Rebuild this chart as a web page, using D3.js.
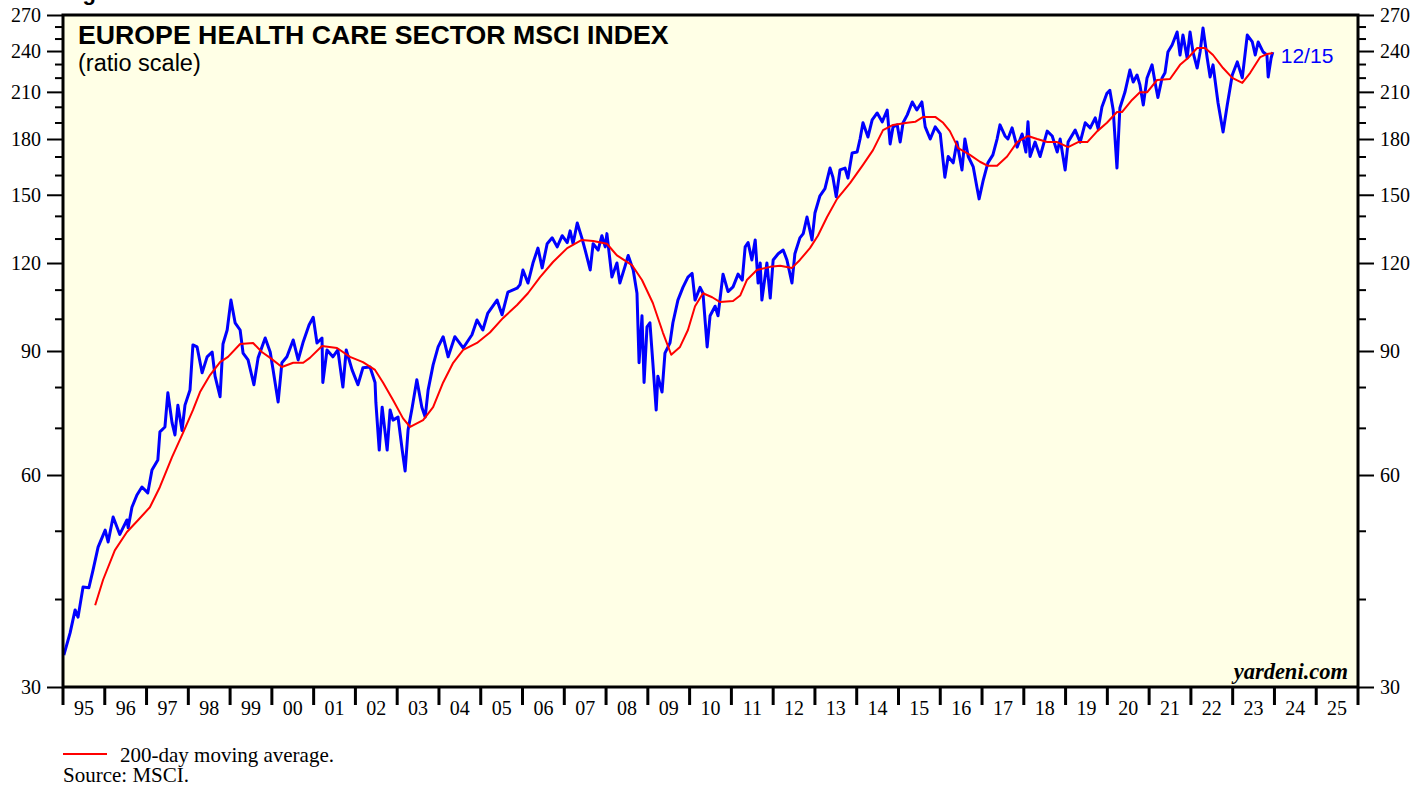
<!DOCTYPE html>
<html>
<head>
<meta charset="utf-8">
<script src="https://d3js.org/d3.v7.min.js"></script>
<style>
  body { margin: 0; background: #ffffff; }
  svg { display: block; }
</style>
</head>
<body>
<script>

var indexYears = [1995.02,1995.17,1995.29,1995.36,1995.48,1995.62,1995.72,1995.84,1996.01,1996.08,1996.20,1996.36,1996.53,1996.56,1996.65,1996.77,1996.89,1997.03,1997.13,1997.27,1997.32,1997.44,1997.51,1997.61,1997.68,1997.75,1997.85,1997.92,1998.04,1998.11,1998.21,1998.33,1998.45,1998.57,1998.64,1998.76,1998.83,1998.93,1999.02,1999.12,1999.24,1999.31,1999.43,1999.57,1999.67,1999.84,1999.96,2000.03,2000.15,2000.24,2000.36,2000.51,2000.63,2000.75,2000.89,2000.99,2001.08,2001.20,2001.22,2001.32,2001.46,2001.58,2001.70,2001.78,2001.92,2002.06,2002.18,2002.35,2002.47,2002.49,2002.57,2002.64,2002.76,2002.83,2002.90,2003.02,2003.12,2003.19,2003.26,2003.36,2003.47,2003.59,2003.67,2003.74,2003.86,2003.98,2004.10,2004.22,2004.38,2004.58,2004.79,2004.91,2005.05,2005.17,2005.39,2005.51,2005.65,2005.87,2005.94,2006.01,2006.13,2006.25,2006.37,2006.47,2006.59,2006.71,2006.83,2006.95,2007.07,2007.14,2007.21,2007.31,2007.42,2007.50,2007.62,2007.69,2007.81,2007.90,2007.98,2008.02,2008.14,2008.26,2008.33,2008.45,2008.53,2008.65,2008.74,2008.79,2008.86,2008.91,2008.98,2009.05,2009.12,2009.20,2009.24,2009.34,2009.41,2009.53,2009.60,2009.72,2009.84,2009.96,2010.06,2010.13,2010.25,2010.32,2010.42,2010.49,2010.61,2010.68,2010.80,2010.92,2011.04,2011.16,2011.26,2011.33,2011.40,2011.49,2011.57,2011.64,2011.69,2011.73,2011.85,2011.93,2012.00,2012.12,2012.24,2012.33,2012.45,2012.52,2012.64,2012.72,2012.81,2012.93,2013.00,2013.12,2013.24,2013.36,2013.43,2013.51,2013.60,2013.72,2013.79,2013.89,2014.01,2014.08,2014.15,2014.27,2014.37,2014.49,2014.61,2014.73,2014.80,2014.87,2014.97,2015.04,2015.11,2015.21,2015.33,2015.44,2015.56,2015.64,2015.76,2015.88,2016.00,2016.11,2016.19,2016.31,2016.40,2016.52,2016.59,2016.67,2016.79,2016.88,2016.93,2017.03,2017.14,2017.26,2017.36,2017.43,2017.55,2017.62,2017.72,2017.84,2017.96,2018.05,2018.10,2018.15,2018.27,2018.39,2018.56,2018.68,2018.80,2018.87,2018.99,2019.06,2019.23,2019.35,2019.47,2019.59,2019.71,2019.78,2019.87,2019.99,2020.06,2020.14,2020.23,2020.30,2020.42,2020.54,2020.62,2020.71,2020.78,2020.86,2020.95,2021.07,2021.14,2021.21,2021.31,2021.38,2021.45,2021.55,2021.67,2021.74,2021.81,2021.91,2021.98,2022.05,2022.15,2022.22,2022.29,2022.39,2022.46,2022.53,2022.65,2022.77,2022.87,2022.99,2023.11,2023.23,2023.35,2023.47,2023.54,2023.61,2023.73,2023.82,2023.85,2023.92,2023.96];
var indexValues = [33.3,35.8,38.6,37.7,41.6,41.5,44.0,47.4,50.1,48.2,52.3,49.4,51.8,50.5,54.0,56.2,57.7,56.6,61.0,63.0,69.1,70.2,78.5,71.2,68.4,75.4,69.4,75.4,79.2,91.8,91.2,83.8,88.3,89.7,82.9,77.5,92.1,96.4,106.3,98.7,96.4,89.4,87.4,80.6,88.0,93.9,89.7,84.6,76.2,86.6,88.3,93.3,87.4,92.7,98.0,100.5,92.4,93.9,81.2,90.3,88.3,90.3,80.0,90.3,84.6,80.6,85.2,85.4,81.2,76.0,65.1,74.9,65.1,74.2,71.8,72.5,65.1,60.8,69.5,74.9,81.9,74.9,72.5,79.2,86.0,91.2,94.3,88.3,94.3,90.9,94.9,99.6,96.4,101.9,106.3,101.3,109.1,110.5,111.8,117.3,112.4,120.0,126.0,118.1,127.8,130.3,126.5,131.2,128.3,133.3,127.8,136.8,130.3,125.2,117.3,127.8,125.2,131.2,126.5,132.1,114.6,120.0,112.4,118.5,123.0,117.3,108.7,86.6,101.0,81.2,97.4,98.7,86.6,74.2,82.9,78.7,89.4,92.4,98.7,106.3,110.8,114.6,116.0,106.3,110.8,108.7,91.2,101.0,104.2,101.0,115.7,109.3,111.0,115.7,113.5,126.5,128.3,121.2,129.4,112.4,120.0,106.3,120.0,107.0,121.2,123.7,125.2,121.2,112.4,123.7,130.3,132.1,139.5,129.4,141.3,149.5,153.0,163.7,158.9,149.0,162.7,163.7,158.4,172.0,172.5,180.0,189.8,181.2,191.6,196.0,190.4,197.9,177.1,187.3,188.5,178.2,189.8,194.8,203.2,197.9,203.2,187.3,180.0,187.3,183.0,158.9,170.0,166.5,178.2,162.7,180.0,170.0,164.3,153.5,148.0,157.4,166.5,170.9,180.0,188.5,181.8,180.0,186.7,175.3,183.0,172.5,190.4,170.0,178.2,170.0,184.7,181.8,172.5,180.0,162.7,178.2,185.3,178.2,189.8,186.7,192.9,186.1,199.9,209.0,211.0,197.9,163.7,199.2,209.7,225.5,216.9,221.9,214.8,201.2,219.8,229.4,216.9,206.2,219.8,223.5,239.2,244.8,255.4,236.9,252.9,234.6,255.4,239.2,227.0,239.2,258.8,234.6,220.5,229.4,202.5,184.2,201.2,221.9,231.6,219.8,252.9,247.2,236.9,247.2,239.2,236.9,220.5,234.6,239.2];

// 200-day moving average (red)
var maYears = [1995.77,1995.96,1996.24,1996.53,1996.80,1997.08,1997.32,1997.61,1997.87,1998.11,1998.28,1998.52,1998.76,1998.95,1999.24,1999.55,1999.76,1999.96,2000.24,2000.51,2000.75,2000.91,2001.20,2001.56,2001.87,2002.18,2002.47,2002.66,2002.90,2003.14,2003.31,2003.62,2003.86,2004.10,2004.34,2004.58,2004.91,2005.22,2005.53,2005.87,2006.13,2006.42,2006.73,2007.07,2007.42,2007.69,2008.02,2008.26,2008.62,2008.86,2009.12,2009.36,2009.56,2009.77,2009.96,2010.13,2010.32,2010.54,2010.73,2011.04,2011.21,2011.37,2011.61,2011.93,2012.17,2012.45,2012.64,2012.88,2013.07,2013.29,2013.53,2013.84,2014.15,2014.39,2014.63,2014.87,2015.21,2015.40,2015.59,2015.88,2016.07,2016.23,2016.43,2016.71,2016.95,2017.14,2017.36,2017.60,2017.84,2018.10,2018.32,2018.56,2018.80,2019.06,2019.30,2019.52,2019.76,2019.99,2020.23,2020.35,2020.59,2020.78,2020.95,2021.19,2021.50,2021.74,2021.93,2022.15,2022.34,2022.53,2022.77,2022.99,2023.23,2023.42,2023.66,2023.82,2023.96];
var maValues = [39.2,42.6,46.9,49.8,51.8,54.0,57.7,63.6,68.8,74.2,78.7,83.2,86.8,88.3,92.1,92.4,89.7,88.0,85.4,86.6,86.6,88.0,91.5,90.9,88.3,86.8,84.6,81.2,76.7,72.2,70.2,71.8,74.9,81.2,86.6,90.3,92.4,95.6,100.2,104.6,108.7,114.6,120.4,126.0,129.4,129.0,127.8,123.0,119.2,113.5,105.3,95.6,88.9,91.2,96.4,104.2,108.7,107.3,105.6,106.0,107.9,113.5,117.3,118.5,118.9,118.1,121.2,126.0,131.2,139.5,148.0,155.8,165.4,173.6,185.3,188.5,189.8,190.4,193.5,193.5,189.8,184.7,174.7,170.9,167.1,164.9,164.9,170.0,178.2,181.8,180.0,178.2,178.2,175.3,178.2,178.2,184.7,189.8,196.6,196.6,204.5,209.7,209.7,218.3,219.0,229.4,234.6,242.4,242.4,236.9,227.0,219.8,216.2,223.5,235.3,237.6,238.4];

// Axis ticks
var yMajor = [30, 60, 90, 120, 150, 180, 210, 240, 270];
var yMinor = [40, 50, 70, 80, 100, 110, 130, 140, 160, 170, 190, 200, 220, 230, 250, 260];
var yearLabels = ["95","96","97","98","99","00","01","02","03","04","05","06","07","08","09","10","11","12","13","14","15","16","17","18","19","20","21","22","23","24","25"];
var lastDate = "12/15";

var w = 1426;
var h = 786;
var margin = {top: 15, right: 68, bottom: 99, left: 63};
var plotW = w - margin.left - margin.right;
var plotH = h - margin.top - margin.bottom;

var sans = "'Liberation Sans', Arial, sans-serif";
var serif = "'Liberation Serif', 'Times New Roman', serif";

var svg = d3.select("body").append("svg")
            .attr("width", w)
            .attr("height", h);

// scales: linear in years, log for the ratio scale
var xScale = d3.scaleLinear()
               .domain([1995, 1995 + yearLabels.length])
               .range([margin.left, margin.left + plotW]);

var yScale = d3.scaleLog()
               .domain([30, 270])
               .range([margin.top + plotH, margin.top]);

// figure heading, cut off at the top edge like in the source
svg.append("text")
   .attr("x", 63)
   .attr("y", 0)
   .attr("font-family", sans)
   .attr("font-weight", "bold")
   .attr("font-size", 22)
   .text("Figure");

// plot background
svg.append("rect")
   .attr("x", margin.left)
   .attr("y", margin.top)
   .attr("width", plotW)
   .attr("height", plotH)
   .attr("fill", "#ffffe6");

svg.append("clipPath")
   .attr("id", "clip")
   .append("rect")
   .attr("x", margin.left)
   .attr("y", margin.top)
   .attr("width", plotW)
   .attr("height", plotH);

var indexData = indexYears.map(function(d, i){ return {t: d, v: indexValues[i]}; });
var maData = maYears.map(function(d, i){ return {t: d, v: maValues[i]}; });

var line = d3.line()
             .x(d => xScale(d.t))
             .y(d => yScale(d.v));

var lines = svg.append("g").attr("clip-path", "url(#clip)");

lines.append("path")
     .datum(indexData)
     .attr("d", line)
     .attr("fill", "none")
     .attr("stroke", "#0000ff")
     .attr("stroke-width", 3)
     .attr("stroke-linejoin", "round");

lines.append("path")
     .datum(maData)
     .attr("d", line)
     .attr("fill", "none")
     .attr("stroke", "#ff0000")
     .attr("stroke-width", 2)
     .attr("stroke-linejoin", "round");

// left and right axes, major ticks with labels
var leftAxis = d3.axisLeft(yScale)
                 .tickValues(yMajor)
                 .tickFormat(d3.format("d"))
                 .tickSize(16)
                 .tickPadding(6);

var rightAxis = d3.axisRight(yScale)
                  .tickValues(yMajor)
                  .tickFormat(d3.format("d"))
                  .tickSize(16)
                  .tickPadding(6);

svg.append("g")
   .attr("transform", `translate(${margin.left}, 0)`)
   .call(leftAxis);

svg.append("g")
   .attr("transform", `translate(${margin.left + plotW}, 0)`)
   .call(rightAxis);

// minor ticks
svg.append("g")
   .attr("transform", `translate(${margin.left}, 0)`)
   .call(d3.axisLeft(yScale).tickValues(yMinor).tickFormat("").tickSize(8));

svg.append("g")
   .attr("transform", `translate(${margin.left + plotW}, 0)`)
   .call(d3.axisRight(yScale).tickValues(yMinor).tickFormat("").tickSize(8));

svg.selectAll(".domain").remove();
svg.selectAll(".tick line")
   .attr("stroke", "#000")
   .attr("stroke-width", 2);

svg.selectAll(".tick text")
   .attr("font-family", serif)
   .attr("font-size", 20)
   .attr("fill", "#000");

// year ticks on the bottom edge
var yearTicks = d3.range(1995, 1995 + yearLabels.length + 1);
svg.append("g")
   .selectAll("line")
   .data(yearTicks)
   .enter()
   .append("line")
   .attr("x1", d => xScale(d))
   .attr("x2", d => xScale(d))
   .attr("y1", margin.top + plotH)
   .attr("y2", margin.top + plotH + 18)
   .attr("stroke", "#000")
   .attr("stroke-width", 3);

svg.append("g")
   .selectAll("text")
   .data(yearLabels)
   .enter()
   .append("text")
   .attr("x", (d, i) => xScale(1995 + i + 0.5))
   .attr("y", margin.top + plotH + 28)
   .attr("text-anchor", "middle")
   .attr("font-family", serif)
   .attr("font-size", 20)
   .text(d => d);

// plot frame
svg.append("rect")
   .attr("x", margin.left)
   .attr("y", margin.top)
   .attr("width", plotW)
   .attr("height", plotH)
   .attr("fill", "none")
   .attr("stroke", "#000")
   .attr("stroke-width", 3);

// titles
svg.append("text")
   .attr("x", 78)
   .attr("y", 44)
   .attr("font-family", sans)
   .attr("font-weight", "bold")
   .attr("font-size", 26.7)
   .text("EUROPE HEALTH CARE SECTOR MSCI INDEX");

svg.append("text")
   .attr("x", 78)
   .attr("y", 71)
   .attr("font-family", sans)
   .attr("font-size", 23.5)
   .text("(ratio scale)");

// last date label next to the line end
var last = indexData[indexData.length - 1];
svg.append("text")
   .attr("x", xScale(last.t) + 8)
   .attr("y", 63)
   .attr("font-family", sans)
   .attr("font-size", 21)
   .attr("fill", "#0000ff")
   .text(lastDate);

svg.append("text")
   .attr("x", 1348)
   .attr("y", 679)
   .attr("text-anchor", "end")
   .attr("font-family", serif)
   .attr("font-weight", "bold")
   .attr("font-style", "italic")
   .attr("font-size", 22.5)
   .text("yardeni.com");

// footnotes
svg.append("line")
   .attr("x1", 63)
   .attr("x2", 107)
   .attr("y1", 754)
   .attr("y2", 754)
   .attr("stroke", "#ff0000")
   .attr("stroke-width", 2);

svg.append("text")
   .attr("x", 120)
   .attr("y", 762)
   .attr("font-family", serif)
   .attr("font-size", 21)
   .text("200-day moving average.");

svg.append("text")
   .attr("x", 63)
   .attr("y", 782)
   .attr("font-family", serif)
   .attr("font-size", 21)
   .text("Source: MSCI.");

</script>
</body>
</html>
